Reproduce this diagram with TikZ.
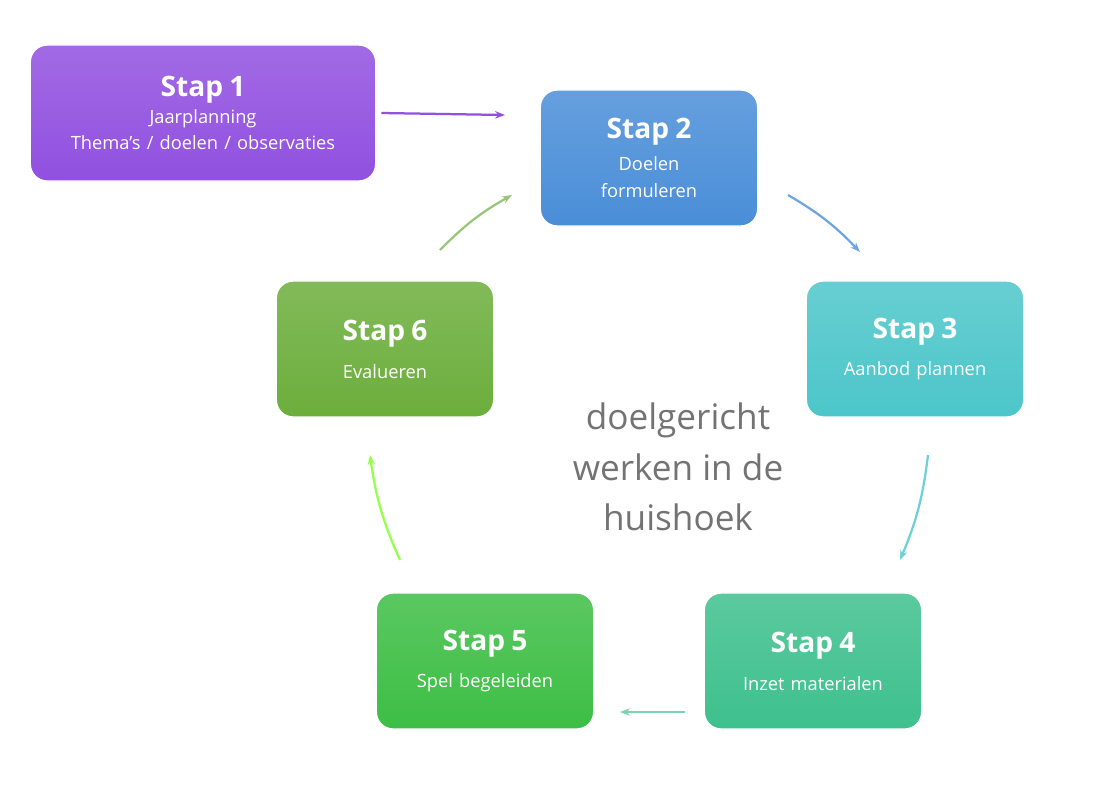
\documentclass[tikz,border=0pt]{standalone}
\usepackage{fontspec}
\setmainfont{Open Sans}
\usepackage{tikz}
\usetikzlibrary{arrows.meta}
\definecolor{cStapA}{HTML}{9150E0}
\definecolor{cStapB}{HTML}{4A8ED8}
\definecolor{cStapC}{HTML}{4CC6CA}
\definecolor{cStapD}{HTML}{3EC08E}
\definecolor{cStapE}{HTML}{3DBE45}
\definecolor{cStapF}{HTML}{6CAE3C}
\tikzstyle{fStap} = [rectangle, rounded corners=12pt, minimum width=5.3cm, minimum height=3.4cm, text centered, text width=5.2cm, text=white, font=\fontsize{13}{19}\selectfont, draw=white, line width=1pt]
\tikzstyle{fArrow} = [line width=1.6pt, -{Stealth[length=7pt]}]
\begin{document}
\begin{tikzpicture}[x=0.025cm, y=-0.025cm]
    \useasboundingbox (0,0) rectangle (1100,810);
    \node (stapEen) [fStap, minimum width=8.6cm, text width=8.4cm, top color=cStapA!85, bottom color=cStapA] at (203,113) {{\fontsize{20}{24}\selectfont\bfseries Stap 1}\\Jaarplanning\\Thema's / doelen / observaties};
    \node (stapTwee) [fStap, top color=cStapB!85, bottom color=cStapB] at (649,158) {{\fontsize{20}{24}\selectfont\bfseries Stap 2}\\[4pt]Doelen\\formuleren};
    \node (stapDrie) [fStap, top color=cStapC!85, bottom color=cStapC] at (915,349) {{\fontsize{20}{24}\selectfont\bfseries Stap 3}\\[8pt]Aanbod plannen};
    \node (stapVier) [fStap, top color=cStapD!85, bottom color=cStapD] at (813,661) {{\fontsize{20}{24}\selectfont\bfseries Stap 4}\\[8pt]Inzet materialen};
    \node (stapVijf) [fStap, top color=cStapE!85, bottom color=cStapE] at (485,661) {{\fontsize{20}{24}\selectfont\bfseries Stap 5}\\[8pt]Spel begeleiden};
    \node (stapZes) [fStap, top color=cStapF!85, bottom color=cStapF] at (385,349) {{\fontsize{20}{24}\selectfont\bfseries Stap 6}\\[8pt]Evalueren};
    \node (midden) [text=black!55, align=center, font=\fontsize{25}{36}\selectfont] at (678,467) {doelgericht\\werken in de\\huishoek};

    \draw [fArrow, cStapA] (stapEen.east) ++(5,0) coordinate (pEen) -- (505,115) coordinate (pTwee);
    \draw [fArrow, cStapB!80] (788,195) coordinate (aB) to[bend left=8] (860,252) coordinate (aC);
    \draw [fArrow, cStapC!80] (928,455) coordinate (bC) to[bend left=8] (900,560) coordinate (bD);
    \draw [fArrow, cStapD!70, line width=1pt] (685,712) coordinate (cD) -- (620,712) coordinate (cE);
    \draw [fArrow, green!60!yellow!70] (400,560) coordinate (dE) to[bend left=8] (370,455) coordinate (dF);
    \draw [fArrow, cStapF!70] (440,250) coordinate (eF) to[bend left=8] (512,195) coordinate (eB);
\end{tikzpicture}
\end{document}
